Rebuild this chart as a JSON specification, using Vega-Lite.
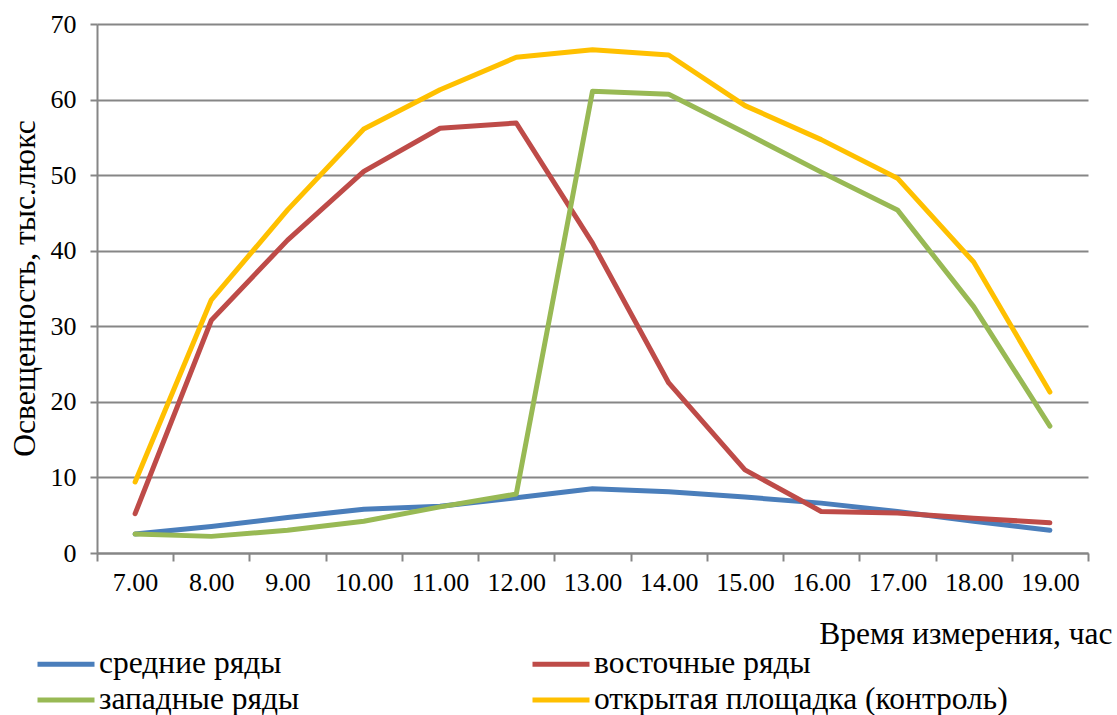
{
  "$schema": "https://vega.github.io/schema/vega-lite/v6.json",
  "width": 991,
  "height": 529,
  "autosize": "none",
  "padding": {"left": 97, "top": 24, "right": 29, "bottom": 162},
  "background": "white",
  "config": {
    "font": "Liberation Serif",
    "view": {"stroke": null}
  },
  "data": {
    "values": [
      {"time": "7.00", "series": "средние ряды", "value": 2.5},
      {"time": "8.00", "series": "средние ряды", "value": 3.5},
      {"time": "9.00", "series": "средние ряды", "value": 4.7},
      {"time": "10.00", "series": "средние ряды", "value": 5.8},
      {"time": "11.00", "series": "средние ряды", "value": 6.2},
      {"time": "12.00", "series": "средние ряды", "value": 7.3},
      {"time": "13.00", "series": "средние ряды", "value": 8.5},
      {"time": "14.00", "series": "средние ряды", "value": 8.1},
      {"time": "15.00", "series": "средние ряды", "value": 7.4},
      {"time": "16.00", "series": "средние ряды", "value": 6.6},
      {"time": "17.00", "series": "средние ряды", "value": 5.5},
      {"time": "18.00", "series": "средние ряды", "value": 4.2},
      {"time": "19.00", "series": "средние ряды", "value": 3.0},
      {"time": "7.00", "series": "восточные ряды", "value": 5.2},
      {"time": "8.00", "series": "восточные ряды", "value": 30.8},
      {"time": "9.00", "series": "восточные ряды", "value": 41.4},
      {"time": "10.00", "series": "восточные ряды", "value": 50.5},
      {"time": "11.00", "series": "восточные ряды", "value": 56.2},
      {"time": "12.00", "series": "восточные ряды", "value": 56.9},
      {"time": "13.00", "series": "восточные ряды", "value": 41.0},
      {"time": "14.00", "series": "восточные ряды", "value": 22.5},
      {"time": "15.00", "series": "восточные ряды", "value": 11.0},
      {"time": "16.00", "series": "восточные ряды", "value": 5.5},
      {"time": "17.00", "series": "восточные ряды", "value": 5.3},
      {"time": "18.00", "series": "восточные ряды", "value": 4.6},
      {"time": "19.00", "series": "восточные ряды", "value": 4.0},
      {"time": "7.00", "series": "западные ряды", "value": 2.5},
      {"time": "8.00", "series": "западные ряды", "value": 2.2},
      {"time": "9.00", "series": "западные ряды", "value": 3.0},
      {"time": "10.00", "series": "западные ряды", "value": 4.2},
      {"time": "11.00", "series": "западные ряды", "value": 6.1},
      {"time": "12.00", "series": "западные ряды", "value": 7.8},
      {"time": "13.00", "series": "западные ряды", "value": 61.1},
      {"time": "14.00", "series": "западные ряды", "value": 60.7},
      {"time": "15.00", "series": "западные ряды", "value": 55.6},
      {"time": "16.00", "series": "западные ряды", "value": 50.4},
      {"time": "17.00", "series": "западные ряды", "value": 45.4},
      {"time": "18.00", "series": "западные ряды", "value": 32.6},
      {"time": "19.00", "series": "западные ряды", "value": 16.8},
      {"time": "7.00", "series": "открытая площадка (контроль)", "value": 9.4},
      {"time": "8.00", "series": "открытая площадка (контроль)", "value": 33.5},
      {"time": "9.00", "series": "открытая площадка (контроль)", "value": 45.4},
      {"time": "10.00", "series": "открытая площадка (контроль)", "value": 56.1},
      {"time": "11.00", "series": "открытая площадка (контроль)", "value": 61.3},
      {"time": "12.00", "series": "открытая площадка (контроль)", "value": 65.6},
      {"time": "13.00", "series": "открытая площадка (контроль)", "value": 66.6},
      {"time": "14.00", "series": "открытая площадка (контроль)", "value": 65.9},
      {"time": "15.00", "series": "открытая площадка (контроль)", "value": 59.2},
      {"time": "16.00", "series": "открытая площадка (контроль)", "value": 54.7},
      {"time": "17.00", "series": "открытая площадка (контроль)", "value": 49.6},
      {"time": "18.00", "series": "открытая площадка (контроль)", "value": 38.5},
      {"time": "19.00", "series": "открытая площадка (контроль)", "value": 21.3}
    ]
  },
  "mark": {"type": "line", "strokeWidth": 5, "strokeCap": "round", "strokeJoin": "round"},
  "encoding": {
    "x": {
      "field": "time",
      "type": "ordinal",
      "sort": null,
      "bandPosition": 0.5,
      "scale": {"type": "band", "paddingInner": 0, "paddingOuter": 0},
      "axis": {
        "title": "Время измерения, час",
        "titleFont": "Liberation Serif",
        "titleFontSize": 31.5,
        "titleFontWeight": "normal",
        "titleColor": "black",
        "titleAnchor": "end",
        "titleAlign": "right",
        "titleBaseline": "alphabetic",
        "titleX": 1015,
        "titleY": 90,
        "labelAngle": 0,
        "labelFont": "Liberation Serif",
        "labelFontSize": 26,
        "labelColor": "black",
        "labelPadding": 8,
        "tickBand": "extent",
        "tickSize": 8,
        "tickColor": "#868686",
        "tickWidth": 2,
        "domainColor": "#868686",
        "domainWidth": 2,
        "grid": false
      }
    },
    "y": {
      "field": "value",
      "type": "quantitative",
      "scale": {"domain": [0, 70], "nice": false},
      "axis": {
        "title": "Освещенность, тыс.люкс",
        "titleFont": "Liberation Serif",
        "titleFontSize": 31.5,
        "titleFontWeight": "normal",
        "titleColor": "black",
        "titleAngle": -90,
        "titleAlign": "center",
        "titleBaseline": "middle",
        "titleX": -72,
        "titleY": 264,
        "values": [0, 10, 20, 30, 40, 50, 60, 70],
        "labelFont": "Liberation Serif",
        "labelFontSize": 26,
        "labelColor": "black",
        "labelPadding": 14,
        "tickSize": 7,
        "tickColor": "#868686",
        "tickWidth": 2,
        "domainColor": "#868686",
        "domainWidth": 2,
        "grid": true,
        "gridColor": "#868686",
        "gridWidth": 2
      }
    },
    "color": {
      "field": "series",
      "type": "nominal",
      "sort": null,
      "scale": {
        "domain": ["средние ряды", "восточные ряды", "западные ряды", "открытая площадка (контроль)"],
        "range": ["#4A7EBB", "#BE4B48", "#98B954", "#FFC000"]
      },
      "legend": {
        "title": null,
        "orient": "none",
        "legendX": -62,
        "legendY": 625,
        "columns": 2,
        "direction": "horizontal",
        "columnPadding": 230,
        "rowPadding": 4,
        "clipHeight": 30,
        "symbolType": "stroke",
        "symbolSize": 3249,
        "symbolStrokeWidth": 5,
        "labelFont": "Liberation Serif",
        "labelFontSize": 31.5,
        "labelColor": "black",
        "labelOffset": 2,
        "labelLimit": 600
      }
    }
  }
}
